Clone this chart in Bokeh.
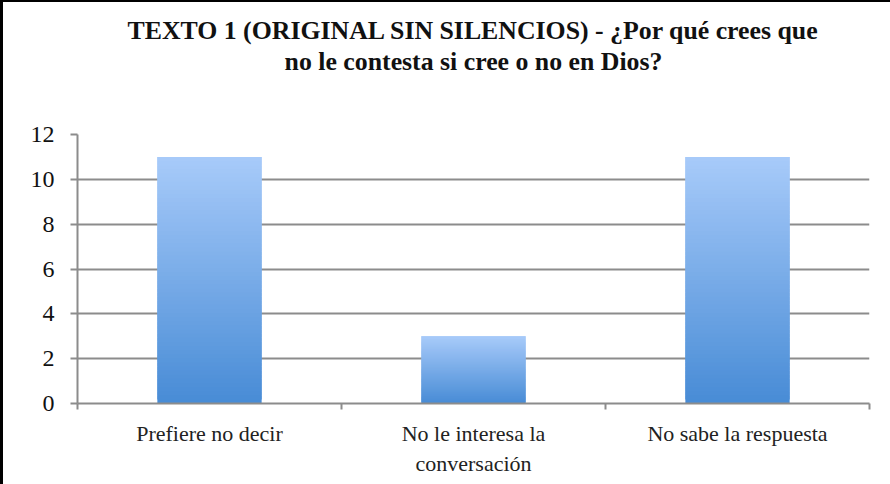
import numpy as np
from bokeh.plotting import figure
from bokeh.models import Range1d, FixedTicker, Title
from bokeh.embed import file_html
from bokeh.resources import INLINE

title_line1 = "TEXTO 1 (ORIGINAL SIN SILENCIOS) - ¿Por qué crees que"
title_line2 = "no le contesta si cree o no en Dios?"
categories = ["Prefiere no decir", "No le interesa la\nconversación", "No sabe la respuesta"]
values = [11, 3, 11]
y_ticks = [0, 2, 4, 6, 8, 10, 12]

FONT = "Liberation Serif"
GRID = "#8c8c8c"

p = figure(width=890, height=484, output_backend="svg", toolbar_location=None,
           x_range=Range1d(0, len(categories)), y_range=Range1d(0, 12),
           min_border_left=74, min_border_right=24, min_border_bottom=83, min_border_top=132)

p.title.text = title_line1
p.title.align = "center"
p.title.text_font = FONT
p.title.text_font_size = "25.8px"
p.title.text_font_style = "bold"
p.title.text_color = "#111111"
p.title.standoff = 0

# blank title used only as vertical spacing between the title and the plot area
spacer = Title(text=" ", standoff=28, text_font=FONT, text_font_size="25.8px")
p.add_layout(spacer, "above")

t2 = Title(text=title_line2, align="center", text_font=FONT,
           text_font_size="25.8px", text_font_style="bold", text_color="#111111", standoff=0)
p.add_layout(t2, "above")

# gradient bars: each bar split into thin overlapping segments
N = 60
top_c = np.array([168, 203, 250])
bot_c = np.array([72, 140, 214])
xs, bottoms, tops, colors = [], [], [], []
for i, v in enumerate(values):
    for k in range(N):
        f0, f1 = k / N, min((k + 2) / N, 1.0)
        xs.append(i + 0.5)
        bottoms.append(v * f0)
        tops.append(v * f1)
        t = (k + 0.5) / N
        c = (bot_c + (top_c - bot_c) * t).astype(int)
        colors.append("#%02x%02x%02x" % tuple(c))

p.vbar(x=xs, bottom=bottoms, top=tops, width=0.395, fill_color=colors, line_color=None)

p.xgrid.visible = False
p.ygrid.ticker = FixedTicker(ticks=y_ticks)
p.ygrid.grid_line_color = GRID
p.ygrid.grid_line_width = 2

p.yaxis.ticker = FixedTicker(ticks=y_ticks)
p.yaxis.axis_line_color = GRID
p.yaxis.axis_line_width = 2
p.yaxis.major_tick_line_color = GRID
p.yaxis.major_tick_line_width = 2
p.yaxis.major_tick_in = 0
p.yaxis.major_tick_out = 7
p.yaxis.minor_tick_line_color = None
p.yaxis.major_label_text_font = FONT
p.yaxis.major_label_text_font_size = "24px"
p.yaxis.major_label_text_color = "#111111"
p.yaxis.major_label_standoff = 16

centers = [i + 0.5 for i in range(len(categories))]
bounds = [float(i) for i in range(len(categories) + 1)]
p.xaxis.ticker = FixedTicker(ticks=centers, minor_ticks=bounds)
p.xaxis.major_label_overrides = {c: lab for c, lab in zip(centers, categories)}
p.xaxis.axis_line_color = GRID
p.xaxis.axis_line_width = 2
p.xaxis.major_tick_line_color = None
p.xaxis.minor_tick_line_color = GRID
p.xaxis.minor_tick_line_width = 2
p.xaxis.minor_tick_in = 0
p.xaxis.minor_tick_out = 6
p.xaxis.major_label_text_font = FONT
p.xaxis.major_label_text_font_size = "22px"
p.xaxis.major_label_text_color = "#222222"
p.xaxis.major_label_standoff = 11

p.outline_line_color = None
p.styles = {"border-left": "3px solid black", "border-top": "2px solid black"}

open("out.html", "w").write(file_html(p, INLINE))
